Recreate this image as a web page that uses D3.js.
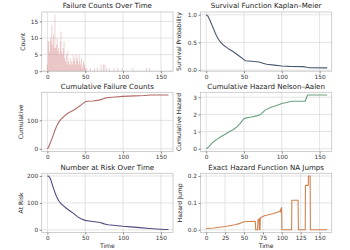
<!DOCTYPE html>
<html><head><meta charset="utf-8">
<script src="https://cdn.jsdelivr.net/npm/d3@7"></script>
<style>body{margin:0;background:#fff}svg{display:block}text{font-family:"DejaVu Sans",sans-serif}</style>
</head><body>
<svg id="c" width="350" height="250"></svg>
<script>
// ---- data ----
const histTimes  = [0,1,2,3,4,5,6,7,8,9,10,11,12,13,14,15,16,17,18,19,20,21,22,23,24,25,26,27,28,29,30,31,32,33,34,35,36,37,38,39,40,41,42,43,44,45,46,47,48,49,50,52,57,62,66,71,74,76,78,82,88,93,99,113,131,135];
const histCounts = [2,9,9,6,10,9,14,8,11,7,17,7,8,10,6,7,5,9,12,6,5,7,9,4,3,5,2,6,3,2,4,2,3,2,5,3,4,2,5,3,4,2,5,3,2,4,1,2,3,2,1,1,1,1,1,2,2,2,1,1,1,1,1,1,1,1];

const kmTimes = [0,2,5,8,10,12,14,17,20,23,27,30,35,40,45,50,52,60,70,75,80,90,100,110,128,133,137,160];
const kmSurv  = [1.0,0.98,0.9,0.8,0.74,0.67,0.61,0.54,0.49,0.45,0.41,0.38,0.34,0.29,0.24,0.19,0.17,0.16,0.145,0.125,0.105,0.09,0.075,0.068,0.063,0.05,0.042,0.04];

const cumTimes = [0,1,3,5,8,10,12,15,18,22,27,32,36,40,45,50,52,60,68,75,80,90,100,115,128,137,160];
const cumFail  = [0,3,15,28,50,65,78,93,104,114,125,132,138,145,155,165,167,168,171,177,180,182,184,186,187,189,189];

const naTimes = [0,3,8,14,20,25,30,36,40,45,50,53,60,68,72,78,85,95,100,105,113,131,134,160];
const naHaz   = [0,0.1,0.35,0.55,0.72,0.85,0.98,1.12,1.25,1.48,1.75,1.8,1.85,1.93,2.0,2.25,2.4,2.55,2.64,2.68,2.77,2.77,3.13,3.13];

const riskTimes = [0,2,4,6,8,10,12,15,18,21,25,30,35,40,45,50,55,65,70,75,80,90,100,110,122,135,145,155,160];
const atRisk    = [200,199,190,172,155,139,124,108,97,90,80,70,60,48,40,35,33,29,27,22,19,16,13,11,8,5,3,1,1];

const jumpTimes = [0,10,25,38,45,50,55,65,65.5,68,68.5,70,70.4,70.8,71.2,71.6,72,77,88,97,97.5,98,98.5,99,99.4,99.8,100.2,113,113.3,121.5,122,131,131.3,135,135.3,137.5,137.8,160];
const jumpVals  = [0.005,0.007,0.0125,0.019,0.024,0.03,0.031,0.032,0,0,0.037,0.04,0,0.042,0,0.044,0.045,0.052,0.06,0.068,0.07,0.072,0.066,0.08,0.07,0.083,0,0,0.11,0.11,0,0,0.165,0.165,0.2,0.2,0,0];

const xTicksMain = [0,50,100,150];
const xTicksJump = [0,25,50,75,100,125,150];

// ---- layout ----
const svg = d3.select("#c");
const cols = [[41.7,173],[200.5,331.7]];
const rows = [12,92.3,173.3];
const H = 59.2;
const xDom = [-7.5,166];

function panel(o){
  const [x0,x1] = cols[o.col];
  const y0 = rows[o.row], y1 = y0 + H;
  const x = d3.scaleLinear().domain(xDom).range([x0,x1]);
  const y = d3.scaleLinear().domain(o.yDom).range([y1,y0]);
  const g = svg.append("g");
  g.append("g").selectAll("line").data(o.xTicks).join("line")
    .attr("x1",d=>x(d)).attr("x2",d=>x(d)).attr("y1",y0).attr("y2",y1)
    .attr("stroke","#dcdcdc").attr("stroke-width",0.8);
  g.append("g").selectAll("line").data(o.yTicks).join("line")
    .attr("x1",x0).attr("x2",x1).attr("y1",d=>y(d)).attr("y2",d=>y(d))
    .attr("stroke","#dcdcdc").attr("stroke-width",0.8);
  o.draw(g,x,y);
  g.append("rect").attr("x",x0).attr("y",y0).attr("width",x1-x0).attr("height",H)
    .attr("fill","none").attr("stroke","#c4c4c4").attr("stroke-width",0.8);
  const ax = d3.axisBottom(x).tickValues(o.xTicks).tickSize(2).tickPadding(1.5).tickFormat(d3.format("d"));
  const ay = d3.axisLeft(y).tickValues(o.yTicks).tickSize(2).tickPadding(1.5).tickFormat(o.yFmt);
  const gx = g.append("g").attr("transform",`translate(0,${y1})`).call(ax);
  const gy = g.append("g").attr("transform",`translate(${x0},0)`).call(ay);
  [gx,gy].forEach(a=>{
    a.select(".domain").remove();
    a.selectAll(".tick line").attr("stroke","#555").attr("stroke-width",0.7);
    a.selectAll(".tick text").attr("fill","#333").style("font-size","5.8px").style("font-family","DejaVu Sans");
  });
  g.append("text").attr("x",(x0+x1)/2).attr("y",y0-3.8).attr("text-anchor","middle")
    .attr("fill","#222").style("font-size","7.1px").text(o.title);
  g.append("text").attr("transform",`translate(${o.ylx},${(y0+y1)/2}) rotate(-90)`)
    .attr("text-anchor","middle").attr("fill","#222").style("font-size","6.1px").text(o.ylabel);
  if(o.xlabel){
    g.append("text").attr("x",(x0+x1)/2).attr("y",y1+15.5).attr("text-anchor","middle")
      .attr("fill","#222").style("font-size","6.1px").text(o.xlabel);
  }
}

function lineDraw(times,vals,color){
  return (g,x,y)=>{
    const pts = times.map((t,i)=>[t,vals[i]]);
    g.append("path").datum(pts)
      .attr("d",d3.line().x(d=>x(d[0])).y(d=>y(d[1])))
      .attr("fill","none").attr("stroke",color).attr("stroke-width",1.1)
      .attr("stroke-linejoin","round");
  };
}

panel({col:0,row:0,title:"Failure Counts Over Time",ylabel:"Count",ylx:25,
  yDom:[0,17.85],xTicks:xTicksMain,yTicks:[0,5,10,15],yFmt:d3.format("d"),
  draw:(g,x,y)=>{
    const bars = histTimes.map((t,i)=>({t,c:histCounts[i]}));
    g.append("g").selectAll("rect").data(bars).join("rect")
      .attr("x",d=>x(d.t-0.5)).attr("width",d=>x(d.t+0.5)-x(d.t-0.5))
      .attr("y",d=>y(d.c)).attr("height",d=>y(0)-y(d.c))
      .attr("fill","rgba(205,110,110,0.42)");
  }});

panel({col:1,row:0,title:"Survival Function Kaplan\u2013Meier",ylabel:"Survival Probability",ylx:181,
  yDom:[-0.02,1.05],xTicks:xTicksMain,yTicks:[0,0.5,1.0],yFmt:d3.format(".1f"),
  draw:lineDraw(kmTimes,kmSurv,"#4a5870")});

panel({col:0,row:1,title:"Cumulative Failure Counts",ylabel:"Cumulative",ylx:22.5,
  yDom:[-9.45,198.45],xTicks:xTicksMain,yTicks:[0,100],yFmt:d3.format("d"),
  draw:lineDraw(cumTimes,cumFail,"#b06a64")});

panel({col:1,row:1,title:"Cumulative Hazard Nelson\u2013Aalen",ylabel:"Cumulative Hazard",ylx:181,
  yDom:[-0.157,3.287],xTicks:xTicksMain,yTicks:[0,1,2,3],yFmt:d3.format("d"),
  draw:lineDraw(naTimes,naHaz,"#6aa27c")});

panel({col:0,row:2,title:"Number at Risk Over Time",ylabel:"At Risk",ylx:22.5,xlabel:"Time",
  yDom:[-10,210],xTicks:xTicksMain,yTicks:[0,100,200],yFmt:d3.format("d"),
  draw:lineDraw(riskTimes,atRisk,"#544980")});

panel({col:1,row:2,title:"Exact Hazard Function NA Jumps",ylabel:"Hazard Jump",ylx:182,xlabel:"Time",
  yDom:[-0.01,0.21],xTicks:xTicksJump,yTicks:[0,0.1,0.2],yFmt:d3.format(".1f"),
  draw:lineDraw(jumpTimes,jumpVals,"#d0834f")});
</script>
</body></html>
